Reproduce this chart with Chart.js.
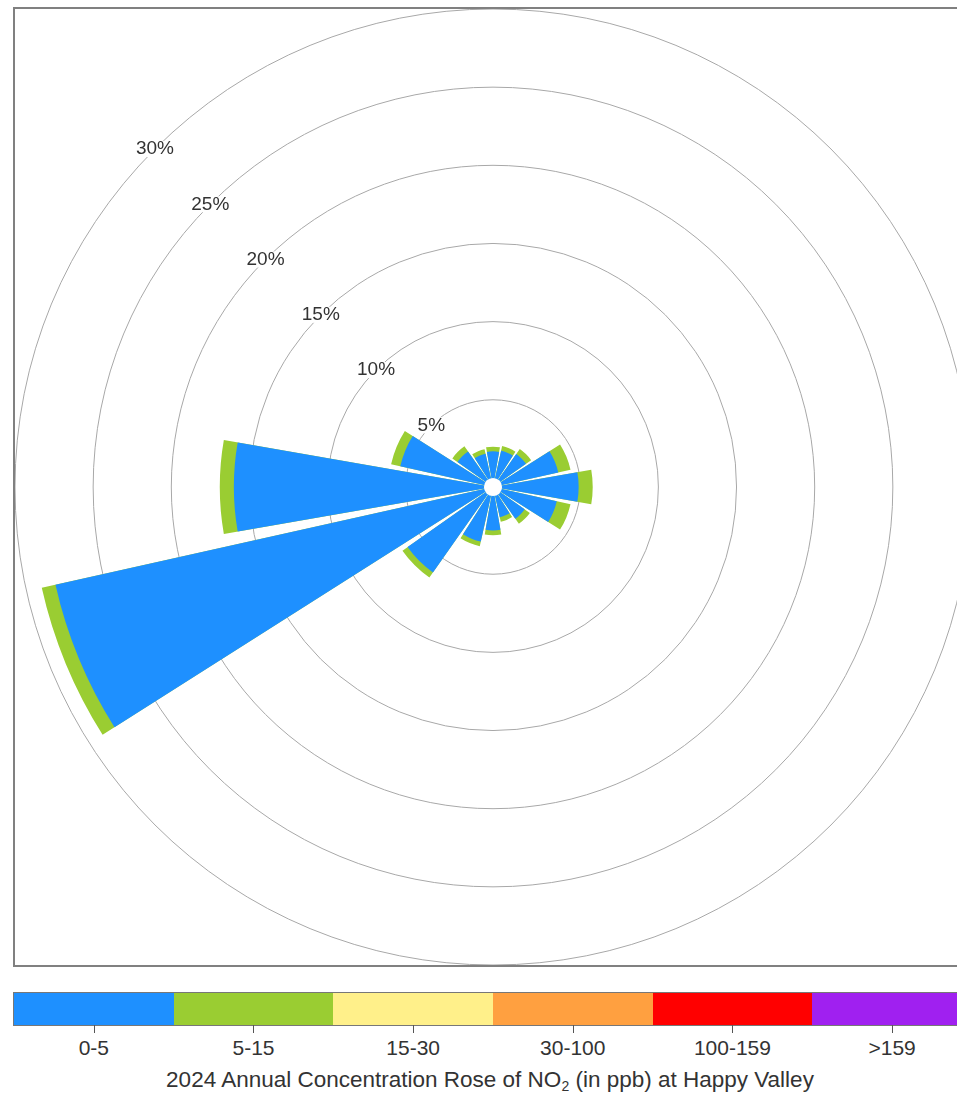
<!DOCTYPE html>
<html><head><meta charset="utf-8">
<script src="https://cdn.jsdelivr.net/npm/chart.js@4.4.1/dist/chart.umd.min.js"></script>
<style>
html,body{margin:0;padding:0;width:957px;height:1098px;overflow:hidden;background:#fff;font-family:"Liberation Sans",Arial,sans-serif;color:#333;}
#frame{position:absolute;left:13px;top:7px;width:956px;height:956px;border:2px solid #808080;}
#frame canvas{display:block}
#cbar{position:absolute;left:14px;top:993px;height:32px;display:flex;box-shadow:0 0 0 1px #777;}
.seg{position:relative;height:32px;}
.seg .tk{position:absolute;left:50%;top:32px;width:1px;height:8px;background:#555;}
.seg .lb{position:absolute;left:-20px;right:-20px;top:44px;text-align:center;font-size:21px;line-height:22px;}
#title{position:absolute;left:0;width:980px;top:1068px;text-align:center;font-size:22.5px;line-height:24px;}
#title sub{font-size:14px;vertical-align:-4px;line-height:0;}
</style></head>
<body>
<div id="frame"><canvas id="rose"></canvas></div>
<div id="cbar"></div>
<div id="title">2024 Annual Concentration Rose of NO<sub>2</sub> (in ppb) at Happy Valley</div>
<script>
// ---- data ----
const directions = ['N','NNE','NE','ENE','E','ESE','SE','SSE','S','SSW','SW','WSW','W','WNW','NW','NNW'];
const freq0to5  = [1.7, 1.8, 2.0, 3.7, 4.9, 3.6, 1.9, 1.4, 2.2, 3.0, 6.1, 28.1, 16.0, 5.5, 2.2, 1.6]; // % of time, 0-5 ppb
const freq5to15 = [0.3, 0.3, 0.4, 0.8, 0.9, 0.9, 0.4, 0.3, 0.3, 0.3, 0.4, 0.9, 0.9, 0.6, 0.4, 0.3]; // % of time, 5-15 ppb
const ringValues = [5, 10, 15, 20, 25, 30];
const ringLabels = ['5%', '10%', '15%', '20%', '25%', '30%'];
const bandLabels = ['0-5', '5-15', '15-30', '30-100', '100-159', '>159'];
const bandColors = ['#1E90FF', '#9ACD32', '#FFF08A', '#FFA040', '#FF0000', '#A020F0'];

// ---- build colour bar legend ----
const cbar = document.getElementById('cbar');
bandLabels.forEach((lab, i) => {
  const s = document.createElement('div');
  s.className = 'seg';
  s.style.width = (958 / bandLabels.length) + 'px';
  s.style.background = bandColors[i];
  s.innerHTML = '<div class="tk"></div><div class="lb"></div>';
  s.querySelector('.lb').textContent = lab;
  cbar.appendChild(s);
});

// ---- build stacked rose (sectors interleaved with angular gaps) ----
const BAR_ANGLE = 19.8, GAP_ANGLE = 22.5 - BAR_ANGLE;
const labels = [], blueData = [], greenData = [];
directions.forEach((d, i) => {
  labels.push(d, '');
  blueData.push(freq0to5[i], 0);
  greenData.push(freq0to5[i] + freq5to15[i], 0);
});
const isBar = ctx => ctx.dataIndex % 2 === 0;

const overlay = {
  id: 'overlay',
  afterDatasetsDraw(chart) {
    const s = chart.scales.r, ctx = chart.ctx;
    ctx.save();
    ctx.fillStyle = '#fff';
    ctx.beginPath();
    ctx.arc(s.xCenter, s.yCenter, s.getDistanceFromCenterForValue(0), 0, Math.PI * 2);
    ctx.fill();
    ctx.font = '19px "Liberation Sans", Arial, sans-serif';
    ctx.textAlign = 'center';
    ctx.textBaseline = 'middle';
    const a = -3 * Math.PI / 4;
    ringValues.forEach((v, i) => {
      const r = s.getDistanceFromCenterForValue(v);
      const x = s.xCenter + r * Math.cos(a), y = s.yCenter + r * Math.sin(a);
      const w = ctx.measureText(ringLabels[i]).width;
      ctx.fillStyle = '#fff';
      ctx.fillRect(x - w / 2 - 1, y - 8, w + 2, 16);
      ctx.fillStyle = '#333';
      ctx.fillText(ringLabels[i], x, y);
    });
    ctx.restore();
  }
};

new Chart(document.getElementById('rose'), {
  type: 'polarArea',
  data: {
    labels: labels,
    datasets: [
      { label: bandLabels[0], data: blueData,
        backgroundColor: c => isBar(c) ? bandColors[0] : 'rgba(0,0,0,0)',
        borderWidth: 0, angle: c => isBar(c) ? BAR_ANGLE : GAP_ANGLE },
      { label: bandLabels[1], data: greenData,
        backgroundColor: c => isBar(c) ? bandColors[1] : 'rgba(0,0,0,0)',
        borderWidth: 0, angle: c => isBar(c) ? BAR_ANGLE : GAP_ANGLE }
    ]
  },
  options: {
    responsive: true,
    maintainAspectRatio: false,
    devicePixelRatio: 1,
    animation: false,
    layout: { padding: 0 },
    plugins: { legend: { display: false }, tooltip: { enabled: false } },
    scales: {
      r: {
        min: -0.58,
        max: 30,
        startAngle: -BAR_ANGLE / 2,
        ticks: { display: false, stepSize: 5 },
        afterBuildTicks: sc => { sc.ticks = ringValues.map(v => ({ value: v })); },
        grid: { circular: true, color: '#a8a8a8', lineWidth: 1 },
        angleLines: { display: false },
        pointLabels: { display: false }
      }
    }
  },
  plugins: [overlay]
});
</script>
</body></html>
